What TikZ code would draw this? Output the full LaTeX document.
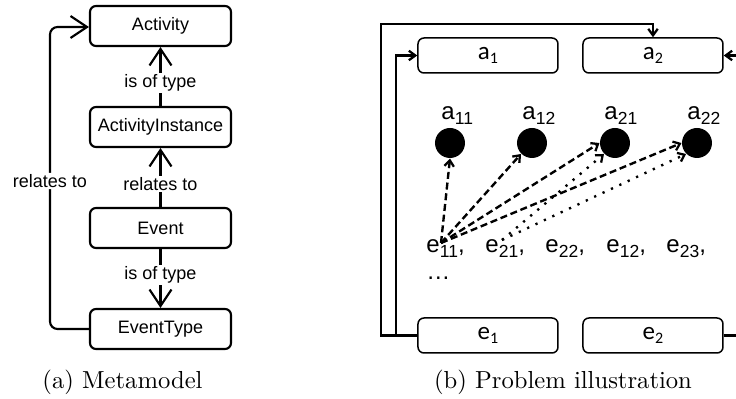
\documentclass[tikz,border=0pt]{standalone}
\usepackage{fontspec}
\newfontfamily\arialfont{Liberation Sans}
\newfontfamily\calfont{Carlito}
\usetikzlibrary{arrows.meta,calc}

% small lowered indices for the sans labels
\newcommand\boxsub[1]{\raisebox{-1.3pt}{\fontsize{6.4}{6}\selectfont #1}}
\newcommand\dotsub[1]{\raisebox{-2pt}{\fontsize{7}{7}\selectfont #1}}
\newcommand\evsub[1]{\raisebox{-1.9pt}{\fontsize{7}{7}\selectfont #1}}

\tikzset{
  mmbox/.style={draw, line width=0.85pt, rounded corners=2.4pt,
    minimum width=56.4pt, minimum height=16pt, inner sep=0pt,
    font=\arialfont\fontsize{7.2}{8}\selectfont},
  mmlabel/.style={fill=white, inner sep=0.6pt,
    font=\arialfont\fontsize{7.2}{8}\selectfont},
  mmarrow/.style={line width=0.85pt,
    -{Straight Barb[length=6.6pt,width=8.8pt,line width=0.85pt]}},
  pbox/.style={draw, line width=0.6pt, rounded corners=2.4pt,
    minimum width=56pt, minimum height=14pt, inner sep=0pt,
    font=\calfont\fontsize{10}{10}\selectfont},
  blob/.style={circle, fill=black, minimum size=12pt, inner sep=0pt},
  blobname/.style={anchor=base west, inner sep=0pt,
    font=\arialfont\fontsize{9.6}{10}\selectfont},
  evname/.style={anchor=base west, inner sep=0pt,
    font=\arialfont\fontsize{9.6}{10}\selectfont},
  route/.style={line width=1.05pt,
    -{Straight Barb[length=2.6pt,width=3.8pt,line width=0.9pt]}},
  dasharrow/.style={line width=0.95pt, dash pattern=on 2.8pt off 1.5pt,
    -{Straight Barb[length=2.4pt,width=3.8pt,line width=0.9pt]}},
  dotarrow/.style={line width=0.95pt, dash pattern=on 0.9pt off 2.8pt,
    -{Straight Barb[length=2.4pt,width=3.8pt,line width=0.9pt]}},
  caption/.style={font=\fontsize{9.85}{12}\selectfont, inner sep=0pt}
}

\begin{document}
\begin{tikzpicture}[x=0.4pt,y=-0.4pt]
\useasboundingbox (0,0) rectangle (736,399);

% ---------- (a) metamodel ----------
\node[mmbox] (act)  at (160.5,26)  {Activity};
\node[mmbox] (ainst) at (160.5,127) {ActivityInstance};
\node[mmbox] (ev)   at (160.5,228) {Event};
\node[mmbox] (evt)  at (160.5,329) {EventType};

\draw[mmarrow] (ainst) -- node[mmlabel, pos=0.39] {is of type} (act);
\draw[mmarrow] (ev) -- node[mmlabel, pos=0.39] {relates to} (ainst);
\draw[mmarrow] (ev) -- node[mmlabel, pos=0.44] {is of type} (evt);
\draw[mmarrow, rounded corners=3pt] (evt.west) -- (50,329) -- (50,27)
  node[mmlabel, pos=0.49] {relates to} -- (act.west |- 0,27);

\node[caption] (capa) at (122.5,382) {(a) Metamodel};

% ---------- (b) problem illustration ----------
\node[pbox] (a1) at (488,55.5)  {a\boxsub{1}};
\node[pbox] (a2) at (653,55.5)  {a\boxsub{2}};
\node[pbox] (e1) at (488,335.5) {e\boxsub{1}};
\node[pbox] (e2) at (653,335.5) {e\boxsub{2}};

\node[blob] (a11) at (450,143) {};
\node[blob] (a12) at (532,143) {};
\node[blob] (a21) at (615,143) {};
\node[blob] (a22) at (697,143) {};

\node[blobname] (n11) at (441,120) {a\dotsub{11}};
\node[blobname] (n12) at (522,120) {a\dotsub{12}};
\node[blobname] (n21) at (604,120) {a\dotsub{21}};
\node[blobname] (n22) at (687,120) {a\dotsub{22}};

\node[evname] (e11) at (426,253) {e\evsub{11},};
\node[evname] (e21) at (485,253) {e\evsub{21},};
\node[evname] (e22) at (545,253) {e\evsub{22},};
\node[evname] (e12) at (606,253) {e\evsub{12},};
\node[evname] (e23) at (666,253) {e\evsub{23},};
\node[evname] (more) at (426,280) {…};

\coordinate (s11) at ($(e11.base west)+(15,-10)$);
\coordinate (s21) at ($(e21.base west)+(17,-13)$);

\draw[dasharrow] (s11) -- (a11.south);
\draw[dasharrow] (s11) -- (a12.south west);
\draw[dasharrow] (s11) -- (a21.west);
\draw[dasharrow] (s11) -- (a22.west);
\draw[dotarrow] (s21) -- (a21.south west);
\draw[dotarrow] (s21) -- (a22.south west);

% routing lines between the event and activity boxes
\draw[route] (e1.west) -- (396,335.5) |- (a1.west);
\draw[route] (e1.west) -| (381,24) -| (a2.north);
\draw[route] (e2.east) -- (748,335.5) |- (a2.east);

\node[caption] (capb) at (563,382) {(b) Problem illustration};
\end{tikzpicture}
\end{document}
